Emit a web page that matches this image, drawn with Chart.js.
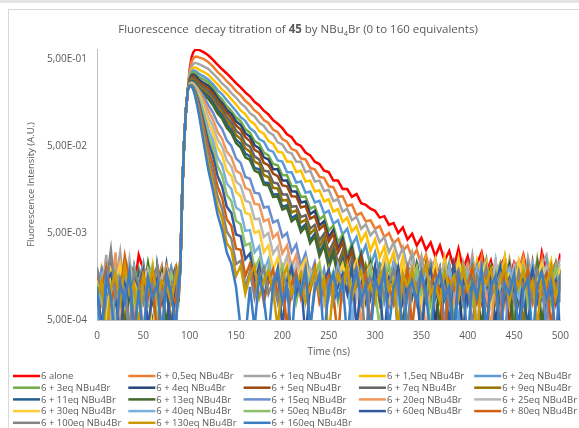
<!DOCTYPE html>
<html>
<head>
<meta charset="utf-8">
<script src="https://cdn.jsdelivr.net/npm/chart.js"></script>
<style>
  html, body { margin: 0; padding: 0; background: #fff; overflow: hidden; }
  canvas { display: block; }
</style>
</head>
<body>
<canvas id="decayChart" width="579" height="428"></canvas>
<script>
        // Tiempo (ns) compartido por todas las series
        const time = [0,5,10,15,20,25,30,35,40,45,50,55,60,65,70,75,80,85,
            88,90,92,94,96,98,100,102,104,106,108,110,
            115,120,125,130,135,140,145,150,155,160,
            165,170,175,180,185,190,195,200,205,210,
            215,220,225,230,235,240,245,250,255,260,
            265,270,275,280,285,290,295,300,305,310,
            315,320,325,330,335,340,345,350,355,360,
            365,370,375,380,385,390,395,400,405,410,
            415,420,425,430,435,440,445,450,455,460,
            465,470,475,480,485,490,495,500];

        // Intensidad de fluorescencia (A.U.)
        const alone = [.0009,.0016,.0003,.0012,.0021,.0008,.0014,.0003,.0011,.0028,.0019,.0018,.0016,.0017,.0018,.0015,.0012,.0020,
            .0018,.0025,.015,.056,.13,.22,.38,.52,.60,.635,.64,.635,
            .60,.55,.49,.43,.38,.34,.30,.263,.236,.206,
            .186,.161,.146,.127,.115,.099,.090,.080,.068,.063,
            .053,.050,.042,.039,.033,.031,.026,.025,.020,.020,
            .016,.016,.013,.014,.011,.0105,.0095,.0090,.0075,.0078,
            .0062,.0065,.0050,.0058,.0042,.0049,.0036,.0044,.0032,.0039,
            .0027,.0036,.0024,.0031,.0020,.0033,.0019,.0027,.0016,.0022,
            .0030,.0017,.0024,.0014,.0021,.0026,.0015,.0023,.0018,.0028,
            .0016,.0021,.0013,.0030,.0019,.0022,.0015,.0029];
        const eq0_5 = [.0012,.0004,.0019,.0010,.0003,.0015,.0023,.0009,.0013,.0003,.0017,.0011,.0008,.0014,.0021,.0010,.0016,.0004,
            .0013,.0024,.015,.055,.13,.22,.36,.46,.51,.53,.53,.52,
            .50,.46,.41,.355,.318,.277,.247,.213,.192,.165,
            .149,.128,.117,.099,.092,.077,.072,.060,.056,.046,
            .044,.036,.035,.028,.027,.022,.0215,.0172,.0168,.0130,
            .0132,.0102,.0106,.0080,.0085,.0068,.0070,.0056,.0060,.0045,
            .0050,.0038,.0043,.0031,.0036,.0026,.0032,.0021,.0028,.0017,
            .0025,.0014,.0022,.0011,.0020,.0024,.0010,.0018,.0023,.0012,
            .0026,.0009,.0019,.0015,.0022,.0008,.0024,.0013,.0017,.0027,
            .0010,.0020,.0014,.0025,.0004,.0018,.0023,.0012];
        const eq1 = [.0016,.0010,.0028,.0004,.0013,.0030,.0009,.0018,.0003,.0012,.0022,.0008,.0015,.0011,.0019,.0003,.0013,.0017,
            .0010,.0022,.015,.054,.13,.22,.34,.41,.44,.45,.445,.435,
            .41,.385,.34,.30,.261,.234,.202,.180,.155,.140,
            .119,.109,.093,.085,.072,.067,.055,.052,.043,.041,
            .033,.033,.025,.026,.0195,.020,.0152,.0157,.0116,.0122,
            .0088,.0095,.0070,.0077,.0056,.0063,.0047,.0054,.0039,.0045,
            .0030,.0039,.0025,.0034,.0020,.0030,.0017,.0027,.0013,.0024,
            .0019,.0011,.0026,.0016,.0021,.0009,.0023,.0014,.0028,.0011,
            .0019,.0025,.0008,.0021,.0016,.0027,.0012,.0020,.0024,.0010,
            .0026,.0015,.0009,.0022,.0028,.0013,.0019,.0025];
        const eq1_5 = [.0008,.0020,.0013,.0003,.0017,.0011,.0024,.0009,.0015,.0003,.0019,.0012,.0022,.0008,.0014,.0018,.0004,.0011,
            .0016,.0023,.015,.055,.13,.22,.32,.375,.395,.40,.39,.375,
            .355,.33,.29,.256,.222,.199,.171,.150,.128,.116,
            .097,.089,.074,.069,.057,.053,.043,.042,.033,.033,
            .025,.026,.0195,.020,.0150,.0155,.0115,.0122,.0088,.0094,
            .0067,.0075,.0052,.0060,.0040,.0050,.0031,.0042,.0026,.0035,
            .0021,.0030,.0016,.0026,.0012,.0023,.0018,.0010,.0024,.0014,
            .0020,.0009,.0025,.0013,.0018,.0022,.0008,.0019,.0011,.0024,
            .0015,.0004,.0021,.0017,.0012,.0026,.0010,.0019,.0014,.0023,
            .0008,.0018,.0022,.0011,.0016,.0024,.0009,.0019];
        const eq2 = [.0014,.0009,.0017,.0023,.0004,.0012,.0016,.0010,.0020,.0013,.0003,.0015,.0018,.0009,.0011,.0021,.0014,.0008,
            .0012,.0022,.015,.055,.13,.22,.31,.355,.37,.365,.352,.336,
            .315,.29,.257,.219,.196,.168,.146,.126,.107,.097,
            .080,.073,.060,.056,.045,.043,.034,.033,.025,.025,
            .019,.0195,.0145,.0150,.0112,.0117,.0084,.0090,.0064,.0070,
            .0048,.0056,.0036,.0045,.0027,.0036,.0021,.0030,.0017,.0026,
            .0013,.0023,.0019,.0010,.0021,.0015,.0008,.0020,.0012,.0017,
            .0023,.0009,.0016,.0013,.0021,.0004,.0018,.0011,.0022,.0014,
            .0009,.0019,.0012,.0024,.0008,.0016,.0020,.0010,.0015,.0003,
            .0021,.0013,.0018,.0009,.0022,.0011,.0016,.0004];
        const eq3 = [.0011,.0018,.0008,.0014,.0021,.0010,.0003,.0016,.0012,.0019,.0009,.0023,.0013,.0004,.0017,.0011,.0020,.0015,
            .0009,.0021,.015,.055,.13,.22,.30,.34,.35,.343,.328,.31,
            .29,.268,.234,.195,.171,.143,.126,.107,.096,.078,
            .071,.057,.053,.042,.039,.031,.030,.023,.023,.0172,
            .0172,.0130,.0131,.0095,.0101,.0072,.0079,.0053,.0061,.0039,
            .0048,.0028,.0037,.0021,.0030,.0016,.0025,.0013,.0022,.0018,
            .0010,.0021,.0014,.0017,.0009,.0023,.0012,.0016,.0019,.0008,
            .0020,.0013,.0011,.0022,.0004,.0016,.0014,.0021,.0009,.0018,
            .0012,.0024,.0008,.0015,.0019,.0011,.0022,.0004,.0017,.0013,
            .0020,.0010,.0025,.0012,.0016,.0008,.0021,.0014];
        const eq4 = [.0004,.0013,.0019,.0010,.0015,.0003,.0012,.0020,.0008,.0014,.0011,.0017,.0003,.0021,.0009,.0013,.0018,.0010,
            .0014,.0021,.015,.055,.13,.22,.29,.325,.33,.32,.305,.287,
            .265,.246,.215,.179,.156,.130,.116,.096,.087,.070,
            .064,.051,.047,.037,.035,.027,.027,.020,.0200,.0150,
            .0150,.0112,.0115,.0082,.0090,.0061,.0068,.0045,.0054,.0033,
            .0043,.0024,.0034,.0018,.0028,.0014,.0022,.0011,.0019,.0015,
            .0008,.0020,.0013,.0017,.0010,.0022,.0009,.0016,.0012,.0019,
            .0004,.0017,.0013,.0021,.0010,.0015,.0003,.0018,.0012,.0020,
            .0009,.0014,.0019,.0004,.0016,.0012,.0021,.0010,.0015,.0008,
            .0018,.0013,.0020,.0003,.0014,.0017,.0011,.0019];
        const eq5 = [.0015,.0008,.0012,.0018,.0003,.0014,.0010,.0022,.0013,.0004,.0016,.0011,.0019,.0009,.0012,.0003,.0015,.0020,
            .0011,.0020,.015,.055,.13,.22,.285,.31,.315,.303,.287,.27,
            .248,.229,.200,.165,.144,.120,.105,.086,.077,.063,
            .057,.045,.042,.032,.030,.024,.0225,.0176,.0172,.0132,
            .0131,.0098,.0102,.0073,.0078,.0055,.0062,.0040,.0049,.0030,
            .0039,.0022,.0031,.0017,.0026,.0013,.0021,.0017,.0010,.0020,
            .0014,.0008,.0019,.0012,.0016,.0021,.0009,.0015,.0011,.0019,
            .0013,.0004,.0018,.0012,.0022,.0009,.0016,.0011,.0020,.0014,
            .0008,.0017,.0012,.0021,.0010,.0015,.0004,.0019,.0013,.0017,
            .0009,.0023,.0011,.0016,.0012,.0020,.0008,.0015];
        const eq7 = [.0010,.0017,.0004,.0013,.0024,.0009,.0015,.0011,.0003,.0018,.0012,.0008,.0016,.0020,.0010,.0014,.0004,.0013,
            .0017,.0022,.015,.055,.13,.22,.28,.30,.30,.29,.273,.255,
            .232,.212,.185,.152,.132,.107,.094,.075,.068,.053,
            .049,.038,.035,.026,.0255,.019,.0185,.0138,.0138,.0100,
            .0102,.0076,.0080,.0056,.0062,.0041,.0049,.0030,.0039,.0022,
            .0031,.0017,.0025,.0013,.0021,.0016,.0010,.0019,.0013,.0017,
            .0008,.0021,.0011,.0015,.0019,.0009,.0016,.0012,.0022,.0010,
            .0014,.0018,.0004,.0016,.0012,.0020,.0009,.0015,.0011,.0019,
            .0013,.0008,.0017,.0014,.0021,.0010,.0013,.0018,.0008,.0016,
            .0011,.0020,.0014,.0009,.0018,.0012,.0022,.0010];
        const eq9 = [.0013,.0003,.0016,.0011,.0009,.0019,.0004,.0014,.0021,.0010,.0015,.0008,.0012,.0018,.0003,.0016,.0011,.0019,
            .0008,.0021,.015,.055,.13,.22,.275,.29,.288,.277,.26,.24,
            .217,.196,.169,.138,.120,.097,.085,.067,.060,.047,
            .043,.033,.031,.023,.022,.0165,.0162,.0118,.0120,.0086,
            .0091,.0066,.0071,.0049,.0056,.0035,.0044,.0026,.0035,.0019,
            .0028,.0014,.0023,.0017,.0010,.0021,.0013,.0018,.0008,.0016,
            .0020,.0011,.0015,.0009,.0019,.0013,.0017,.0004,.0016,.0021,
            .0010,.0014,.0018,.0008,.0015,.0012,.0020,.0009,.0014,.0017,
            .0010,.0022,.0013,.0008,.0018,.0014,.0011,.0020,.0016,.0004,
            .0019,.0012,.0015,.0021,.0009,.0014,.0018,.0011];
        const eq11 = [.0003,.0014,.0010,.0020,.0008,.0012,.0017,.0003,.0013,.0009,.0019,.0011,.0004,.0015,.0010,.0022,.0009,.0012,
            .0015,.0022,.015,.055,.13,.22,.27,.28,.277,.265,.248,.228,
            .205,.185,.158,.128,.111,.088,.076,.059,.053,.041,
            .038,.028,.027,.019,.0188,.0138,.0139,.0100,.0104,.0074,
            .0080,.0056,.0063,.0041,.0049,.0030,.0038,.0022,.0031,.0016,
            .0025,.0012,.0020,.0015,.0008,.0018,.0012,.0021,.0009,.0015,
            .0011,.0019,.0003,.0014,.0018,.0010,.0022,.0012,.0008,.0016,
            .0013,.0020,.0009,.0015,.0003,.0018,.0012,.0021,.0008,.0014,
            .0017,.0010,.0019,.0003,.0013,.0018,.0009,.0015,.0022,.0011,
            .0004,.0017,.0013,.0020,.0008,.0016,.0010,.0019];
        const eq13 = [.0017,.0011,.0008,.0015,.0012,.0020,.0003,.0013,.0009,.0016,.0011,.0021,.0008,.0012,.0018,.0004,.0014,.0010,
            .0019,.0021,.015,.055,.13,.22,.265,.275,.27,.258,.24,.22,
            .195,.174,.148,.119,.103,.081,.070,.054,.048,.037,
            .0345,.026,.0245,.018,.0175,.0130,.0131,.0093,.0098,.0068,
            .0075,.0051,.0059,.0038,.0046,.0027,.0036,.0020,.0029,.0015,
            .0023,.0018,.0010,.0021,.0014,.0008,.0017,.0012,.0020,.0009,
            .0014,.0018,.0011,.0004,.0016,.0013,.0021,.0009,.0015,.0011,
            .0019,.0003,.0014,.0017,.0010,.0022,.0008,.0013,.0018,.0011,
            .0004,.0016,.0020,.0012,.0009,.0017,.0014,.0003,.0019,.0012,
            .0016,.0010,.0021,.0004,.0015,.0012,.0018,.0008];
        const eq15 = [.0012,.0019,.0009,.0003,.0016,.0013,.0010,.0018,.0004,.0014,.0022,.0009,.0011,.0017,.0003,.0013,.0020,.0008,
            .0012,.0022,.015,.055,.13,.22,.262,.27,.265,.25,.235,.22,
            .185,.148,.122,.093,.078,.058,.050,.036,.032,.022,
            .021,.0145,.0142,.0098,.0100,.0066,.0070,.0045,.0050,.0030,
            .0037,.0021,.0029,.0016,.0023,.0012,.0019,.0009,.0016,.0021,
            .0011,.0017,.0004,.0014,.0019,.0010,.0016,.0012,.0020,.0008,
            .0013,.0017,.0010,.0015,.0003,.0018,.0012,.0016,.0009,.0020,
            .0011,.0014,.0004,.0017,.0013,.0010,.0019,.0008,.0015,.0012,
            .0021,.0009,.0014,.0018,.0011,.0003,.0016,.0013,.0020,.0008,
            .0015,.0011,.0018,.0013,.0004,.0017,.0012,.0016];
        const eq20 = [.0019,.0008,.0014,.0010,.0030,.0004,.0012,.0016,.0009,.0013,.0003,.0018,.0011,.0008,.0015,.0021,.0010,.0013,
            .0016,.0022,.015,.055,.13,.22,.26,.267,.26,.245,.23,.215,
            .17,.128,.101,.073,.060,.043,.037,.026,.024,.0165,
            .0155,.0108,.0106,.0068,.0072,.0044,.0050,.0029,.0036,.0020,
            .0028,.0015,.0022,.0011,.0019,.0014,.0008,.0017,.0012,.0020,
            .0009,.0015,.0011,.0018,.0004,.0014,.0019,.0010,.0016,.0012,
            .0008,.0017,.0013,.0020,.0009,.0014,.0011,.0018,.0003,.0015,
            .0012,.0019,.0010,.0014,.0008,.0017,.0012,.0021,.0009,.0013,
            .0016,.0010,.0004,.0015,.0019,.0012,.0017,.0009,.0014,.0020,
            .0011,.0008,.0016,.0013,.0019,.0010,.0015,.0012];
        const eq25 = [.0009,.0015,.0021,.0011,.0004,.0017,.0013,.0026,.0010,.0003,.0014,.0019,.0012,.0009,.0016,.0011,.0008,.0018,
            .0013,.0022,.015,.055,.13,.22,.258,.262,.255,.24,.22,.20,
            .15,.108,.085,.060,.049,.034,.029,.0195,.0175,.0118,
            .0112,.0072,.0073,.0045,.0050,.0029,.0035,.0019,.0027,.0014,
            .0022,.0017,.0010,.0019,.0013,.0021,.0008,.0016,.0012,.0019,
            .0010,.0014,.0022,.0009,.0017,.0013,.0004,.0018,.0014,.0021,
            .0011,.0016,.0009,.0019,.0013,.0023,.0010,.0015,.0012,.0018,
            .0008,.0016,.0021,.0011,.0015,.0009,.0020,.0013,.0017,.0004,
            .0014,.0019,.0011,.0024,.0012,.0016,.0010,.0021,.0013,.0009,
            .0017,.0023,.0012,.0015,.0020,.0010,.0016,.0022];
        const eq30 = [.0015,.0011,.0004,.0019,.0014,.0022,.0009,.0012,.0017,.0008,.0020,.0013,.0003,.0016,.0010,.0019,.0012,.0009,
            .0021,.0023,.015,.055,.13,.22,.255,.258,.25,.233,.21,.19,
            .135,.093,.071,.048,.039,.026,.0225,.0148,.0132,.0085,
            .0082,.0050,.0053,.0030,.0036,.0019,.0026,.0014,.0022,.0017,
            .0010,.0020,.0025,.0012,.0018,.0023,.0011,.0019,.0008,.0016,
            .0022,.0013,.0018,.0024,.0010,.0017,.0021,.0012,.0015,.0026,
            .0009,.0018,.0014,.0022,.0011,.0016,.0020,.0008,.0017,.0013,
            .0024,.0010,.0015,.0019,.0012,.0025,.0009,.0014,.0020,.0011,
            .0017,.0023,.0008,.0016,.0021,.0012,.0018,.0010,.0024,.0014,
            .0019,.0009,.0016,.0022,.0011,.0017,.0013,.0020];
        const eq40 = [.0004,.0016,.0012,.0009,.0018,.0010,.0014,.0003,.0020,.0011,.0015,.0008,.0013,.0019,.0009,.0012,.0016,.0011,
            .0010,.0021,.015,.055,.13,.22,.252,.254,.245,.225,.20,.175,
            .12,.078,.058,.037,.030,.0185,.0160,.0098,.0090,.0053,
            .0054,.0030,.0035,.0018,.0025,.0013,.0020,.0010,.0016,.0022,
            .0011,.0017,.0008,.0015,.0020,.0010,.0014,.0018,.0009,.0021,
            .0012,.0016,.0004,.0019,.0011,.0015,.0020,.0009,.0013,.0017,
            .0010,.0022,.0008,.0014,.0018,.0011,.0016,.0003,.0019,.0013,
            .0009,.0017,.0012,.0021,.0010,.0015,.0008,.0018,.0013,.0020,
            .0009,.0014,.0017,.0011,.0004,.0016,.0020,.0012,.0009,.0018,
            .0013,.0022,.0010,.0014,.0008,.0019,.0012,.0016];
        const eq50 = [.0013,.0009,.0018,.0012,.0003,.0015,.0011,.0019,.0008,.0014,.0010,.0016,.0021,.0004,.0013,.0009,.0017,.0012,
            .0014,.0022,.015,.055,.13,.22,.25,.25,.24,.218,.19,.165,
            .105,.066,.048,.0295,.0228,.0138,.0116,.0069,.0063,.0036,
            .0038,.0019,.0025,.0013,.0020,.0009,.0016,.0021,.0012,.0018,
            .0008,.0014,.0019,.0011,.0016,.0022,.0010,.0013,.0018,.0008,
            .0015,.0020,.0012,.0017,.0009,.0014,.0019,.0011,.0004,.0016,
            .0021,.0012,.0015,.0009,.0018,.0013,.0020,.0010,.0014,.0004,
            .0017,.0012,.0019,.0009,.0015,.0011,.0021,.0013,.0008,.0016,
            .0012,.0019,.0010,.0015,.0022,.0009,.0013,.0017,.0011,.0020,
            .0008,.0014,.0018,.0010,.0016,.0012,.0021,.0009];
        const eq60 = [.0011,.0004,.0014,.0017,.0010,.0003,.0013,.0009,.0016,.0012,.0019,.0004,.0011,.0015,.0008,.0013,.0003,.0016,
            .0011,.0021,.015,.055,.13,.22,.248,.248,.235,.21,.182,.155,
            .095,.056,.039,.0228,.0170,.0100,.0085,.0048,.0046,.0025,
            .0029,.0014,.0021,.0009,.0016,.0011,.0019,.0004,.0014,.0020,
            .0010,.0015,.0003,.0013,.0018,.0009,.0014,.0019,.0008,.0012,
            .0017,.0010,.0021,.0004,.0013,.0016,.0009,.0019,.0011,.0003,
            .0015,.0012,.0020,.0008,.0013,.0017,.0010,.0003,.0014,.0019,
            .0009,.0012,.0016,.0004,.0021,.0011,.0014,.0008,.0018,.0010,
            .0013,.0003,.0017,.0012,.0020,.0009,.0015,.0011,.0004,.0016,
            .0012,.0019,.0008,.0013,.0017,.0010,.0014,.0003];
        const eq80 = [.0016,.0012,.0020,.0008,.0013,.0010,.0027,.0014,.0004,.0011,.0017,.0009,.0015,.0003,.0012,.0018,.0010,.0008,
            .0018,.0023,.015,.055,.13,.22,.246,.246,.23,.203,.173,.145,
            .083,.047,.030,.0172,.0125,.0072,.0060,.0033,.0032,.0016,
            .0022,.0011,.0017,.0008,.0014,.0019,.0010,.0015,.0004,.0013,
            .0018,.0009,.0014,.0011,.0020,.0008,.0012,.0016,.0010,.0003,
            .0015,.0019,.0009,.0013,.0011,.0017,.0004,.0014,.0010,.0018,
            .0012,.0008,.0016,.0011,.0019,.0004,.0013,.0015,.0009,.0012,
            .0018,.0010,.0003,.0014,.0011,.0017,.0009,.0013,.0020,.0008,
            .0012,.0016,.0010,.0014,.0004,.0018,.0011,.0009,.0015,.0012,
            .0019,.0008,.0013,.0010,.0016,.0004,.0013,.0011];
        const eq100 = [.0020,.0010,.0013,.0032,.0009,.0015,.0011,.0004,.0018,.0013,.0008,.0016,.0012,.0021,.0009,.0014,.0011,.0017,
            .0009,.0021,.015,.055,.13,.22,.245,.245,.227,.197,.165,.135,
            .072,.039,.024,.0133,.0094,.0052,.0043,.0022,.0024,.0012,
            .0018,.0009,.0015,.0020,.0010,.0014,.0008,.0017,.0012,.0009,
            .0016,.0011,.0019,.0004,.0013,.0017,.0010,.0014,.0008,.0018,
            .0012,.0015,.0009,.0020,.0011,.0003,.0015,.0012,.0017,.0009,
            .0013,.0019,.0010,.0014,.0004,.0016,.0012,.0018,.0009,.0013,
            .0010,.0017,.0012,.0008,.0015,.0019,.0011,.0014,.0004,.0016,
            .0012,.0020,.0009,.0013,.0017,.0010,.0014,.0008,.0018,.0011,
            .0015,.0009,.0019,.0012,.0008,.0016,.0011,.0017];
        const eq130 = [.0009,.0014,.0003,.0012,.0017,.0008,.0021,.0010,.0013,.0004,.0016,.0011,.0019,.0009,.0014,.0012,.0008,.0015,
            .0020,.0022,.015,.055,.13,.22,.245,.244,.224,.19,.155,.125,
            .062,.032,.0188,.0102,.0073,.0038,.0032,.0016,.0021,.0010,
            .0016,.0021,.0009,.0014,.0018,.0011,.0004,.0015,.0020,.0010,
            .0013,.0017,.0008,.0012,.0019,.0010,.0015,.0003,.0013,.0017,
            .0011,.0021,.0009,.0014,.0018,.0010,.0013,.0008,.0016,.0020,
            .0011,.0014,.0004,.0017,.0012,.0019,.0009,.0015,.0021,.0010,
            .0013,.0008,.0018,.0012,.0016,.0009,.0020,.0011,.0015,.0003,
            .0017,.0013,.0019,.0010,.0014,.0021,.0008,.0016,.0012,.0018,
            .0010,.0014,.0004,.0017,.0013,.0020,.0009,.0015];
        const eq160 = [.0012,.0003,.0016,.0009,.0003,.0013,.0008,.0018,.0003,.0011,.0003,.0015,.0009,.0013,.0003,.0017,.0010,.0004,
            .0012,.0021,.015,.055,.13,.22,.244,.245,.222,.185,.148,.115,
            .055,.027,.0155,.0082,.0054,.0030,.0022,.0012,.0004,.0003,
            .0012,.0004,.0016,.0009,.0003,.0013,.0018,.0008,.0012,.0003,
            .0015,.0010,.0019,.0004,.0011,.0016,.0003,.0012,.0017,.0009,
            .0014,.0003,.0011,.0018,.0008,.0013,.0003,.0015,.0010,.0019,
            .0004,.0012,.0016,.0003,.0011,.0014,.0008,.0017,.0010,.0003,
            .0013,.0018,.0009,.0012,.0003,.0016,.0011,.0003,.0014,.0009,
            .0019,.0004,.0012,.0016,.0003,.0013,.0010,.0017,.0003,.0011,
            .0015,.0003,.0012,.0018,.0009,.0013,.0003,.0016];

        const seriesValues = [alone, eq0_5, eq1, eq1_5, eq2, eq3, eq4, eq5, eq7, eq9, eq11, eq13,
            eq15, eq20, eq25, eq30, eq40, eq50, eq60, eq80, eq100, eq130, eq160];
        const seriesLabels = ['6 alone', '6 + 0,5eq NBu4Br', '6 + 1eq NBu4Br', '6 + 1,5eq NBu4Br', '6 + 2eq NBu4Br',
            '6 + 3eq NBu4Br', '6 + 4eq NBu4Br', '6 + 5eq NBu4Br', '6 + 7eq NBu4Br', '6 + 9eq NBu4Br',
            '6 + 11eq NBu4Br', '6 + 13eq NBu4Br', '6 + 15eq NBu4Br', '6 + 20eq NBu4Br', '6 + 25eq NBu4Br',
            '6 + 30eq NBu4Br', '6 + 40eq NBu4Br', '6 + 50eq NBu4Br', '6 + 60eq NBu4Br', '6 + 80eq NBu4Br',
            '6 + 100eq NBu4Br', '6 + 130eq NBu4Br', '6 + 160eq NBu4Br'];
        const seriesColors = ['#FF0000', '#ED7D31', '#A5A5A5', '#FFC000', '#5B9BD5', '#70AD47',
            '#264478', '#9E480E', '#636363', '#997300', '#255E91', '#43682B',
            '#698ED0', '#F1975A', '#B7B7B7', '#FFCD33', '#7CAFDD', '#8CC168',
            '#335AA1', '#D26012', '#848484', '#CC9A00', '#3C7DC4'];

        // Marcas del eje Y y del eje X
        const yTicks = [5e-4, 5e-3, 5e-2, 5e-1];
        const xTickStep = 50;

        const textColor = '#595959';
        const fontFamily = '"Open Sans", "Noto Sans", sans-serif';

        function sciLabel(v) {
            const exp = Math.floor(Math.log10(v) + 1e-9);
            const mant = v / Math.pow(10, exp);
            const sign = exp < 0 ? '-' : '+';
            return mant.toFixed(2).replace('.', ',') + 'E' + sign + String(Math.abs(exp)).padStart(2, '0');
        }

        // Marco y franja superior como en la hoja de Excel
        const framePlugin = {
            id: 'frame',
            beforeDraw(chart) {
                const ctx = chart.ctx;
                ctx.save();
                ctx.fillStyle = '#ffffff';
                ctx.fillRect(0, 0, chart.width, chart.height);
                ctx.fillStyle = '#e3e3e3';
                ctx.fillRect(0, 0, chart.width, 3);
                ctx.strokeStyle = '#d9d9d9';
                ctx.lineWidth = 1;
                ctx.strokeRect(8.5, 9.5, chart.width + 20, chart.height + 20);
                ctx.restore();
            }
        };

        // Titulo con "45" en negrita y subindice en NBu4Br
        const titleParts = [
            { text: 'Fluorescence  decay titration of ', bold: false },
            { text: '45', bold: true },
            { text: ' by NBu', bold: false },
            { text: '4', bold: false, sub: true },
            { text: 'Br (0 to 160 equivalents)', bold: false }
        ];
        const titlePlugin = {
            id: 'richTitle',
            afterDraw(chart) {
                const ctx = chart.ctx;
                const size = 11.5;
                const fontFor = (p) => (p.bold ? 'bold ' : '') + (p.sub ? size * 0.65 : size) + 'px ' + fontFamily;
                ctx.save();
                let total = 0;
                titleParts.forEach(p => { ctx.font = fontFor(p); total += ctx.measureText(p.text).width; });
                let x = 298 - total / 2;
                const y = 33;
                ctx.fillStyle = textColor;
                ctx.textBaseline = 'alphabetic';
                ctx.textAlign = 'left';
                titleParts.forEach(p => {
                    ctx.font = fontFor(p);
                    ctx.fillText(p.text, x, p.sub ? y + 2.5 : y);
                    x += ctx.measureText(p.text).width;
                });
                ctx.restore();
            }
        };

        // Leyenda en cinco columnas
        const legendPlugin = {
            id: 'gridLegend',
            afterDraw(chart) {
                const ctx = chart.ctx;
                ctx.save();
                ctx.font = '9.5px ' + fontFamily;
                ctx.textBaseline = 'middle';
                ctx.textAlign = 'left';
                chart.data.datasets.forEach((ds, i) => {
                    const col = i % 5;
                    const row = Math.floor(i / 5);
                    const x = 13 + col * 115.3;
                    const y = 376 + row * 11.7;
                    ctx.strokeStyle = ds.borderColor;
                    ctx.lineWidth = 2.5;
                    ctx.beginPath();
                    ctx.moveTo(x, y);
                    ctx.lineTo(x + 27, y);
                    ctx.stroke();
                    ctx.fillStyle = textColor;
                    ctx.fillText(ds.label, x + 28, y + 0.5);
                });
                ctx.restore();
            }
        };

        const decayData = {
            datasets: seriesValues.map((vals, i) => ({
                label: seriesLabels[i],
                data: time.map((t, j) => ({ x: t, y: vals[j] })),
                borderColor: seriesColors[i],
                backgroundColor: seriesColors[i],
                borderWidth: 2.5,
                pointRadius: 0,
                tension: 0,
                fill: false,
                order: seriesValues.length - i
            }))
        };

        const decayConfig = {
            type: 'line',
            data: decayData,
            plugins: [framePlugin, titlePlugin, legendPlugin],
            options: {
                responsive: false,
                animation: false,
                events: [],
                layout: { padding: { top: 49, right: 16, bottom: 68, left: 0 } },
                plugins: {
                    legend: { display: false },
                    title: { display: false },
                    tooltip: { enabled: false }
                },
                scales: {
                    x: {
                        type: 'linear',
                        min: 0,
                        max: 500,
                        afterFit: (scale) => { scale.height = 40; },
                        grid: { display: true, drawOnChartArea: false, drawTicks: false },
                        border: { display: true, color: '#bfbfbf', width: 1 },
                        ticks: {
                            stepSize: xTickStep,
                            padding: 10,
                            color: textColor,
                            font: { family: fontFamily, size: 10 },
                            maxRotation: 0
                        },
                        title: {
                            display: true,
                            text: 'Time (ns)',
                            color: textColor,
                            font: { family: fontFamily, size: 10 },
                            padding: { top: 0, bottom: 2 }
                        }
                    },
                    y: {
                        type: 'logarithmic',
                        min: 5e-4,
                        max: 0.65,
                        afterFit: (scale) => { scale.width = 97; },
                        afterBuildTicks: (scale) => { scale.ticks = yTicks.map(v => ({ value: v })); },
                        grid: { display: true, drawOnChartArea: false, drawTicks: false },
                        border: { display: true, color: '#bfbfbf', width: 1 },
                        ticks: {
                            padding: 10,
                            color: textColor,
                            font: { family: fontFamily, size: 10 },
                            callback: (v) => sciLabel(v)
                        },
                        title: {
                            display: true,
                            text: 'Fluorescence Intensity (A.U.)',
                            color: textColor,
                            font: { family: fontFamily, size: 9.5 },
                            padding: { top: 26, bottom: 0 }
                        }
                    }
                }
            }
        };

        const decayChart = new Chart(
            document.getElementById('decayChart'),
            decayConfig
        );
</script>
</body>
</html>
